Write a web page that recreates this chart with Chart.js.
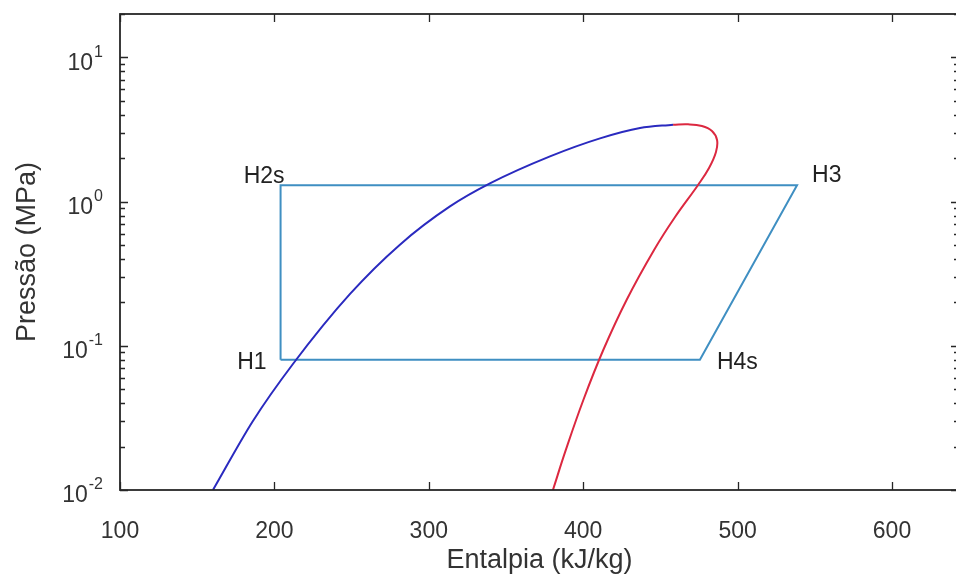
<!DOCTYPE html>
<html>
<head>
<meta charset="utf-8">
<script src="https://cdn.jsdelivr.net/npm/chart.js@4.4.0/dist/chart.umd.min.js"></script>
<style>
  html, body { margin: 0; padding: 0; background: #fff; overflow: hidden; }
  #wrap { position: relative; width: 960px; height: 579px; }
</style>
</head>
<body>
<div id="wrap"><canvas id="ph_chart"></canvas></div>
<script>
// saturated liquid branch (blue), enthalpy kJ/kg and pressure MPa
const liq_h = [160.2, 186.1, 212.0, 249.0, 281.3, 313.7, 339.6, 378.5, 410.9, 436.8, 458.2]
const liq_p = [0.010, 0.0301, 0.0748, 0.229, 0.503, 0.926, 1.337, 2.058, 2.744, 3.238, 3.414]

// saturated vapour branch (red), from the critical point down
const vap_h = [458.2, 467.9, 476.9, 483.4, 486.7, 486.0, 481.5, 474.4, 459.5, 445.9, 428.1, 413.0, 400.1, 388.7, 380.4]
const vap_p = [3.414, 3.436, 3.344, 3.088, 2.675, 2.208, 1.710, 1.304, 0.782, 0.462, 0.208, 0.0935, 0.0421, 0.0189, 0.010]

// refrigeration cycle H1 -> H2s -> H3 -> H4s -> H1
const cycle_h = [204, 204, 538.5, 475.6, 204]
const cycle_p = [0.08, 1.30, 1.30, 0.08, 0.08]

// cycle point labels
const point_names = ['H1', 'H2s', 'H3', 'H4s']
const point_h = [204, 204, 538.5, 475.6]
const point_p = [0.08, 1.30, 1.30, 0.08]

// axis ticks and limits
const x_ticks = [100, 200, 300, 400, 500, 600]
const x_min = 100
const x_max = 643.4
const y_decades = [-2, -1, 0, 1]
const y_min = 0.01
const y_max = 20

const FONT = "'Liberation Sans', Arial, Helvetica, sans-serif"
const AXIS_COLOR = '#262626'

// where each point label sits relative to its point (pixels)
const label_place = {
  H1:  { dx: -14, dy: 3,   align: 'right' },
  H2s: { dx: 4,   dy: -9,  align: 'right' },
  H3:  { dx: 15,  dy: -10, align: 'left' },
  H4s: { dx: 17,  dy: 3,   align: 'left' },
}

const toPoints = (hs, ps) => hs.map((h, i) => ({ x: h, y: ps[i] }))

// log ticks: 1..9 per decade, up to the axis max
let y_tick_vals = []
y_decades.forEach(d => {
  for (let m = 1; m <= 9; m++) {
    const v = m * Math.pow(10, d)
    if (v <= y_max) y_tick_vals.push(v)
  }
})

const isDecade = v => Math.abs(Math.log10(v) - Math.round(Math.log10(v))) < 1e-9

// box, inward ticks, power-of-ten labels and point labels
const axes_box = {
  id: 'axes_box',
  afterDraw(chart) {
    const { ctx, chartArea: a, scales: { x, y } } = chart
    ctx.save()
    ctx.strokeStyle = AXIS_COLOR
    ctx.lineWidth = 1.8
    ctx.strokeRect(a.left, a.top, a.right - a.left, a.bottom - a.top)

    ctx.beginPath()
    x.ticks.forEach(t => {
      const px = Math.round(x.getPixelForValue(t.value)) + 0.5
      ctx.moveTo(px, a.bottom); ctx.lineTo(px, a.bottom - 8)
      ctx.moveTo(px, a.top); ctx.lineTo(px, a.top + 8)
    })
    y.ticks.forEach(t => {
      const py = Math.round(y.getPixelForValue(t.value)) + 0.5
      const len = t.major ? 8 : 5
      ctx.moveTo(a.left, py); ctx.lineTo(a.left + len, py)
      ctx.moveTo(a.right, py); ctx.lineTo(a.right - len, py)
    })
    ctx.lineWidth = 1.3
    ctx.stroke()

    // 10^n labels on the y axis
    ctx.fillStyle = '#333'
    ctx.textBaseline = 'middle'
    ctx.textAlign = 'right'
    y.ticks.filter(t => t.major).forEach(t => {
      const py = y.getPixelForValue(t.value)
      const exp = String(Math.round(Math.log10(t.value)))
      ctx.font = `16px ${FONT}`
      const ew = ctx.measureText(exp).width
      ctx.fillText(exp, 103, py - 5)
      ctx.font = `23px ${FONT}`
      ctx.fillText('10', 103 - ew - 1, py + 6)
    })

    // cycle point labels
    ctx.font = `23px ${FONT}`
    ctx.fillStyle = '#222'
    point_names.forEach((name, i) => {
      const p = label_place[name]
      const px = x.getPixelForValue(point_h[i])
      const py = y.getPixelForValue(point_p[i])
      ctx.textAlign = p.align
      ctx.fillText(name, px + p.dx, py + p.dy)
    })
    ctx.restore()
  }
}

const ph_chart = new Chart(document.getElementById('ph_chart'), {
  type: 'scatter',
  data: {
    datasets: [
      {
        label: 'liquido saturado',
        data: toPoints(liq_h, liq_p),
        showLine: true,
        borderColor: '#2a2abf',
        borderWidth: 2,
        pointRadius: 0,
        cubicInterpolationMode: 'monotone',
      },
      {
        label: 'vapor saturado',
        data: toPoints(vap_h, vap_p),
        showLine: true,
        borderColor: '#dc2840',
        borderWidth: 2,
        pointRadius: 0,
        tension: 0.4,
      },
      {
        label: 'ciclo',
        data: toPoints(cycle_h, cycle_p),
        showLine: true,
        borderColor: '#3f8fc2',
        borderWidth: 2,
        pointRadius: 0,
        tension: 0,
      },
    ]
  },
  options: {
    responsive: true,
    maintainAspectRatio: false,
    animation: false,
    layout: { padding: { top: 14, right: 1, left: 0, bottom: 0 } },
    plugins: {
      legend: { display: false },
      tooltip: { enabled: false },
    },
    scales: {
      x: {
        type: 'linear',
        min: x_min,
        max: x_max,
        afterBuildTicks: s => { s.ticks = x_ticks.map(v => ({ value: v })) },
        afterFit: s => { s.height = 89 },
        grid: { display: false },
        border: { display: false },
        ticks: {
          autoSkip: false,
          maxRotation: 0,
          padding: 20,
          color: '#333',
          font: { family: FONT, size: 23 },
        },
        title: {
          display: true,
          text: 'Entalpia (kJ/kg)',
          color: '#333',
          font: { family: FONT, size: 27 },
          padding: { top: 0, bottom: 2 },
        },
      },
      y: {
        type: 'logarithmic',
        min: y_min,
        max: y_max,
        afterBuildTicks: s => {
          s.ticks = y_tick_vals.map(v => ({ value: v, major: isDecade(v) }))
        },
        afterFit: s => { s.width = 120 },
        grid: { display: false },
        border: { display: false },
        ticks: { display: false },
        title: {
          display: true,
          text: 'Pressão (MPa)',
          color: '#333',
          font: { family: FONT, size: 27 },
          padding: { top: 11, bottom: 0 },
        },
      },
    },
  },
  plugins: [axes_box],
})
</script>
</body>
</html>
